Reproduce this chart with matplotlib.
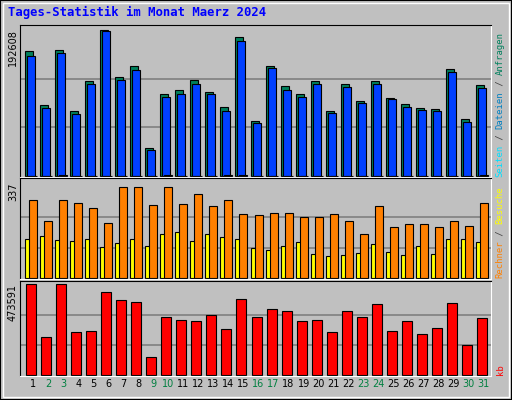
import matplotlib
matplotlib.use("Agg")
import matplotlib.pyplot as plt
from matplotlib.patches import Rectangle
import numpy as np

days = list(range(1, 32))
weekend = [2, 3, 9, 10, 16, 17, 23, 24, 30, 31]
hits = [165300, 93100, 166600, 85200, 125900, 192608, 131200, 145600, 36800, 108700, 113900, 127100, 111300, 90800, 183800, 72500, 145600, 118100, 108700, 125900, 85200, 121000, 98700, 125900, 103500, 95600, 89100, 87800, 141300, 75100, 119400]
files = [158800, 89100, 162600, 81300, 122000, 191300, 127100, 140300, 34200, 104800, 108700, 121800, 108700, 85900, 178600, 69900, 143000, 112900, 104800, 121800, 82600, 117000, 96100, 121800, 102200, 90400, 86500, 85200, 137400, 71200, 115500]
pages = [500, 400, 1800, 400, 500, 400, 400, 400, 400, 1600, 500, 400, 400, 1600, 1600, 400, 400, 400, 400, 400, 400, 400, 400, 400, 400, 400, 400, 400, 400, 400, 1600]
visits = [288, 211, 288, 277, 259, 205, 337, 337, 270, 337, 274, 310, 267, 288, 238, 234, 242, 242, 227, 227, 238, 211, 164, 267, 190, 198, 201, 187, 211, 193, 277]
sites = [146, 157, 139, 136, 143, 114, 128, 146, 117, 164, 172, 136, 161, 150, 146, 110, 103, 117, 132, 88, 81, 84, 92, 125, 95, 84, 117, 88, 143, 143, 132]
kb = [473591, 199300, 473591, 225200, 230400, 432100, 390600, 380300, 95100, 302500, 287000, 281800, 312900, 240300, 395800, 302500, 344000, 333600, 281800, 287000, 224900, 333600, 302500, 369900, 230400, 281800, 214500, 245500, 375000, 154900, 297400]

BG = "#C0C0C0"
W, H = 512, 400
fig = plt.figure(figsize=(5.12, 4.0), dpi=100, facecolor=BG)
mono = "DejaVu Sans Mono"

def fy(y):
    return 1 - y / H

fig.patches.append(Rectangle((0, 0), 1, 1, transform=fig.transFigure, fill=False, ec="black", lw=1.5))
fig.patches.append(Rectangle((3/W, 3/H), 1-6/W, 1-6/H, transform=fig.transFigure, fill=False, ec="white", lw=1))

x = np.array(days, dtype=float)
px = 1 / 15.03

def mkax(top, bot):
    ax = fig.add_axes([20/W, fy(bot), 471/W, (bot-top)/H])
    ax.set_facecolor(BG)
    ax.set_xlim(0.13, 31.47)
    ax.set_xticks([]); ax.set_yticks([])
    for s in ["left", "top"]:
        ax.spines[s].set_color("black")
    for s in ["right", "bottom"]:
        ax.spines[s].set_color("white")
    return ax

ax1 = mkax(25, 177)
ymax1 = max(hits) * 152 / 147
ax1.set_ylim(-ymax1*1/152, ymax1)
for g in (max(hits)/3, 2*max(hits)/3):
    ax1.axhline(g, color="#808080", lw=1.2, zorder=0)
ax1.bar(x - 8*px, hits, width=8*px, align="edge", color="#00805C", ec="black", lw=0.8)
ax1.bar(x - 6*px, files, width=8*px, align="edge", color="#0040FF", ec="black", lw=0.8)
ax1.bar(x - 4*px, pages, width=8*px, align="edge", color="#00E0FF", ec="black", lw=0.8)

ax2 = mkax(178, 279)
ymax2 = max(visits) * 101 / 92
ax2.set_ylim(-ymax2*1/101, ymax2)
for g in (max(visits)/3, 2*max(visits)/3):
    ax2.axhline(g, color="#808080", lw=1.2, zorder=0)
ax2.bar(x - 8*px, sites, width=5*px, align="edge", color="#FFFF00", ec="black", lw=0.8)
ax2.bar(x - 4*px, visits, width=8*px, align="edge", color="#FF8000", ec="black", lw=0.8)

ax3 = mkax(281, 376)
ymax3 = max(kb) * 95 / 91.5
ax3.set_ylim(-ymax3*1/95, ymax3)
for g in (max(kb)/3, 2*max(kb)/3):
    ax3.axhline(g, color="#808080", lw=1.2, zorder=0)
ax3.bar(x - 7*px, kb, width=10*px, align="edge", color="#FF0000", ec="black", lw=0.8)

for d in days:
    ax3.text(d, -0.085, str(d), transform=ax3.get_xaxis_transform(), ha="center", va="center",
             fontsize=7, family="DejaVu Sans", color="#008040" if d in weekend else "black")

fig.text(13/W, fy(29), str(max(hits)), rotation=90, ha="center", va="top", fontsize=7, family="DejaVu Sans")
fig.text(13/W, fy(182), str(max(visits)), rotation=90, ha="center", va="top", fontsize=7, family="DejaVu Sans")
fig.text(13/W, fy(284), str(max(kb)), rotation=90, ha="center", va="top", fontsize=7, family="DejaVu Sans")

fig.text(8/W, fy(12), "Tages-Statistik im Monat Maerz 2024", ha="left", va="center",
         fontsize=8.8, family=mono, weight="bold", color="#0000FF")

def vlabel(pieces, ybottom, fs=6.4):
    cw = fs * 100 / 72 * 0.602
    y = ybottom
    for txt, col in pieces:
        fig.text(500/W, fy(y), txt, rotation=90, ha="center", va="bottom", fontsize=fs,
                 family=mono, color=col)
        y -= len(txt) * cw

vlabel([("Seiten", "#00E0FF"), (" / ", "#404040"), ("Dateien", "#0080C0"), (" / ", "#404040"), ("Anfragen", "#00805C")], 177)
vlabel([("Rechner", "#FF8000"), (" / ", "#404040"), ("Besuche", "#FFFF00")], 278)
vlabel([("kb", "#FF0000")], 375)

fig.savefig("out.png", dpi=100, facecolor=BG)
